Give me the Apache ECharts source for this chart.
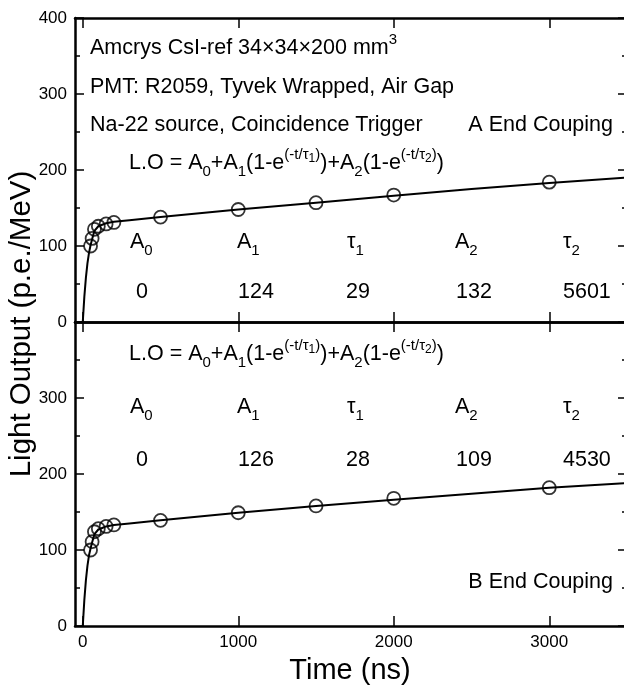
<!DOCTYPE html>
<html>
<head>
<meta charset="utf-8">
<script src="https://cdn.jsdelivr.net/npm/echarts@6/dist/echarts.min.js"></script>
<style>
  html, body { margin: 0; padding: 0; background: #fff; }
  #chart { width: 624px; height: 692px; }
</style>
</head>
<body>
<div id="chart"></div>
<script>
// Measured light output (p.e./MeV) versus integration time (ns)
const timesNs = [50, 60, 75, 100, 150, 200, 500, 1000, 1500, 2000, 3000];
const lightA  = [100, 110, 122, 126, 129, 131, 138, 148, 157, 167, 184];
const lightB  = [100, 111, 124, 128, 131, 133, 139, 149, 158, 168, 182];

// Fitted curves sampled along the time axis
const curveTimes = [0, 10, 20, 30, 40, 50, 60, 75, 100, 125, 150, 200, 300, 500, 1000, 1500, 2000, 2500, 3000, 3500];
const curveA     = [0, 33, 58, 77, 91, 101, 109, 120, 126, 128, 130, 132, 134, 138, 148, 157, 166, 175, 183, 190];
const curveB     = [0, 34, 60, 79, 93, 102, 110, 121, 127, 129, 131, 133, 135, 139, 149, 158, 166, 174, 182, 188];

// Fit parameters shown in each panel
const paramNames = ['A0', 'A1', 'τ1', 'A2', 'τ2'];
const paramsA = ['0', '124', '29', '132', '5601'];
const paramsB = ['0', '126', '28', '109', '4530'];

const xTicks = [0, 1000, 2000, 3000];
const yTicksTop = [0, 100, 200, 300, 400];
const yTicksBottom = [0, 100, 200, 300];

const FONT = '"Liberation Sans", Arial, Helvetica, sans-serif';
const INK = '#000';

const RICH = {
  n:   { fontFamily: FONT, fontSize: 21.5, lineHeight: 32, fill: INK },
  sb:  { fontFamily: FONT, fontSize: 15, lineHeight: 15, verticalAlign: 'bottom', fill: INK },
  sp:  { fontFamily: FONT, fontSize: 15, lineHeight: 15, verticalAlign: 'top', fill: INK },
  sps: { fontFamily: FONT, fontSize: 12, lineHeight: 12, verticalAlign: 'top', padding: [6, 0, 0, 0], fill: INK }
};

function pairs(xs, ys) { return xs.map((x, i) => [x, ys[i]]); }

function richName(p) {
  // "A0" -> A with subscript 0, "τ1" -> tau with subscript 1
  return '{n|' + p[0] + '}{sb|' + p.slice(1) + '}';
}

function txt(x, y, text, align) {
  return {
    type: 'text', x: x, y: y, silent: true,
    style: {
      text: text, rich: RICH, fill: INK, fontFamily: FONT, fontSize: 21.5,
      align: align || 'left', verticalAlign: 'middle'
    }
  };
}

const formula = '{n|L.O = A}{sb|0}{n|+A}{sb|1}{n|(1-e}{sp|(-t/τ}{sps|1}{sp|)}{n|)+A}{sb|2}{n|(1-e}{sp|(-t/τ}{sps|2}{sp|)}{n|)}';

const colX = [130, 237, 347, 455, 563];
const valX = [136, 238, 346, 456, 563];

const graphics = [
  txt(90, 48, '{n|Amcrys CsI-ref 34×34×200 mm}{sp|3}'),
  txt(90, 87, '{n|PMT: R2059, Tyvek Wrapped, Air Gap}'),
  txt(90, 125, '{n|Na-22 source, Coincidence Trigger}'),
  txt(613, 125, '{n|A End Couping}', 'right'),
  txt(129, 163, formula),
  txt(129, 354, formula),
  txt(613, 582, '{n|B End Couping}', 'right'),
  {
    type: 'text', x: 22, y: 324, rotation: Math.PI / 2, silent: true,
    style: { text: 'Light Output (p.e./MeV)', fill: INK, fontFamily: FONT, fontSize: 29.5, align: 'center', verticalAlign: 'middle' }
  },
  {
    type: 'text', x: 350, y: 671, silent: true,
    style: { text: 'Time (ns)', fill: INK, fontFamily: FONT, fontSize: 29, align: 'center', verticalAlign: 'middle' }
  }
];
paramNames.forEach((p, i) => {
  graphics.push(txt(colX[i], 242, richName(p)));
  graphics.push(txt(valX[i], 292, '{n|' + paramsA[i] + '}'));
  graphics.push(txt(colX[i], 407, richName(p)));
  graphics.push(txt(valX[i], 460, '{n|' + paramsB[i] + '}'));
});

const axisLine = { show: true, onZero: false, lineStyle: { color: INK, width: 2.5 } };

function xAxisFor(grid, position, labels) {
  return {
    type: 'value', gridIndex: grid, position: position, min: -50, max: 3500,
    axisLine: axisLine,
    axisTick: { show: true, inside: true, length: 10, customValues: xTicks, lineStyle: { color: INK, width: 1.5 } },
    axisLabel: labels
      ? { show: true, customValues: xTicks, formatter: v => String(v), color: INK, fontFamily: FONT, fontSize: 17, margin: 8 }
      : { show: false },
    splitLine: { show: false }
  };
}

function yAxisFor(grid, position, ticks) {
  return {
    type: 'value', gridIndex: grid, position: position, min: 0, max: 400, interval: 100,
    axisLine: axisLine,
    axisTick: { show: true, inside: true, length: 9, lineStyle: { color: INK, width: 1.5 } },
    minorTick: { show: true, splitNumber: 2, length: 5, lineStyle: { color: INK, width: 1.5 } },
    axisLabel: ticks
      ? { show: true, customValues: ticks, formatter: v => String(v), color: INK, fontFamily: FONT, fontSize: 17, margin: 8 }
      : { show: false },
    splitLine: { show: false }, minorSplitLine: { show: false }
  };
}

const chart = echarts.init(document.getElementById('chart'), null, { renderer: 'canvas' });
chart.setOption({
  backgroundColor: '#fff',
  animation: false,
  grid: [
    { left: 75, top: 18, width: 552, height: 304, outerBoundsMode: 'none', containLabel: false },
    { left: 75, top: 322, width: 552, height: 304, outerBoundsMode: 'none', containLabel: false }
  ],
  xAxis: [
    xAxisFor(0, 'bottom', false),
    xAxisFor(0, 'top', false),
    xAxisFor(1, 'bottom', true),
    xAxisFor(1, 'top', false)
  ],
  yAxis: [
    yAxisFor(0, 'left', yTicksTop),
    yAxisFor(0, 'right', null),
    yAxisFor(1, 'left', yTicksBottom),
    yAxisFor(1, 'right', null)
  ],
  series: [
    {
      type: 'line', xAxisIndex: 0, yAxisIndex: 0, data: pairs(curveTimes, curveA),
      showSymbol: false, smooth: false,
      lineStyle: { color: INK, width: 2 }, silent: true, z: 2
    },
    {
      type: 'scatter', xAxisIndex: 0, yAxisIndex: 0, data: pairs(timesNs, lightA),
      symbol: 'circle', symbolSize: 13,
      itemStyle: { color: 'rgba(0,0,0,0)', borderColor: INK, borderWidth: 1.8 }, z: 3
    },
    {
      type: 'line', xAxisIndex: 2, yAxisIndex: 2, data: pairs(curveTimes, curveB),
      showSymbol: false, smooth: false,
      lineStyle: { color: INK, width: 2 }, silent: true, z: 2
    },
    {
      type: 'scatter', xAxisIndex: 2, yAxisIndex: 2, data: pairs(timesNs, lightB),
      symbol: 'circle', symbolSize: 13,
      itemStyle: { color: 'rgba(0,0,0,0)', borderColor: INK, borderWidth: 1.8 }, z: 3
    }
  ],
  graphic: graphics
});
</script>
</body>
</html>
